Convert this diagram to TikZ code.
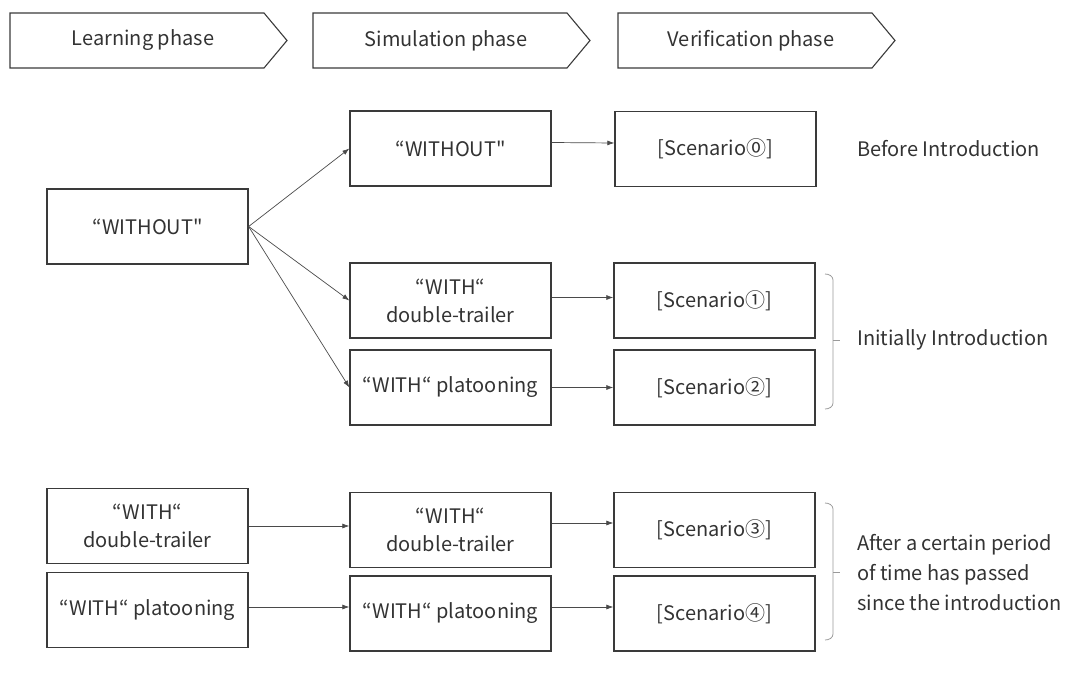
\documentclass[tikz,border=0pt]{standalone}
\usepackage{fontspec}
\setmainfont{Noto Sans CJK JP}[Ligatures=TeXOff]
\usetikzlibrary{arrows.meta}
\definecolor{boxline}{HTML}{3A3A3A}
\definecolor{conn}{HTML}{4A4A4A}
\definecolor{txt}{HTML}{333333}
\definecolor{brk}{HTML}{9A9A9A}
\tikzset{
  box/.style={draw=boxline, line width=1.3pt, rectangle, minimum width=201pt, minimum height=75pt, inner sep=0pt, align=center, text=txt, font=\fontsize{20}{28}\selectfont},
  conn/.style={draw=conn, line width=0.7pt, -{Latex[length=7pt,width=5pt]}},
  phase/.style={draw=boxline, line width=1.1pt},
  phtxt/.style={text=txt, font=\fontsize{20}{24}\selectfont},
  lbl/.style={text=txt, font=\fontsize{20}{30}\selectfont, inner sep=0pt, anchor=west, align=left},
  brace/.style={draw=brk, line width=0.8pt}
}
\begin{document}
\begin{tikzpicture}[x=1pt,y=-1pt]
\useasboundingbox (0,0) rectangle (1065,693);
% phase arrows
\draw[phase] (10,13) -- (264,13) -- (287,40.5) -- (264,68) -- (10,68) -- cycle;
\node[phtxt] (p1) at (143,40.5) {Learning phase};
\draw[phase] (313,13) -- (567,13) -- (590,40.5) -- (567,68) -- (313,68) -- cycle;
\node[phtxt] (p2) at (446,40.5) {Simulation phase};
\draw[phase] (618,13) -- (872,13) -- (895,40.5) -- (872,68) -- (618,68) -- cycle;
\node[phtxt] (p3) at (751,40.5) {Verification phase};

% upper group
\node[box] (lwo) at (147.5,226.5) {“WITHOUT"};
\node[box] (swo) at (450.5,148.5) {“WITHOUT"};
\node[box] (s0) at (715.5,149) {[Scenario⓪]};
\node[box] (sdt) at (450.5,300.5) {“WITH“\\double-trailer};
\node[box] (s1) at (714.5,300.5) {[Scenario①]};
\node[box] (spl) at (450.5,387.5) {“WITH“ platooning};
\node[box] (s2) at (714.5,387.5) {[Scenario②]};

\draw[conn] (lwo.east) -- (swo.west);
\draw[conn] (lwo.east) -- (sdt.west);
\draw[conn] (lwo.east) -- (spl.west);
\draw[conn] ([yshift=6pt]swo.east) -- ([yshift=6pt]s0.west);
\draw[conn] ([yshift=3pt]sdt.east) -- ([yshift=3pt]s1.west);
\draw[conn] (spl.east) -- (s2.west);

% lower group
\node[box] (ldt) at (147.5,526) {“WITH“\\double-trailer};
\node[box] (lpl) at (147.5,610) {“WITH“ platooning};
\node[box] (sdt2) at (450.5,530) {“WITH“\\double-trailer};
\node[box] (spl2) at (450.5,613.5) {“WITH“ platooning};
\node[box] (s3) at (714.5,530) {[Scenario③]};
\node[box] (s4) at (714.5,613.5) {[Scenario④]};

\draw[conn] (ldt.east) -- (sdt2.west |- ldt.east);
\draw[conn] ([yshift=3pt]lpl.east) -- ([yshift=3pt]spl2.west |- lpl.east);
\draw[conn] ([yshift=7pt]sdt2.east) -- ([yshift=7pt]s3.west);
\draw[conn] ([yshift=6.5pt]spl2.east) -- ([yshift=6.5pt]s4.west);

% labels
\node[lbl] (t0) at (857,149) {Before Introduction};
\node[lbl] (t1) at (857,340) {Initially Introduction};
\node[lbl] (t2) at (857,573) {After a certain period\\of time has passed\\since the introduction};

% braces
\draw[brace] (825,274) to[out=0,in=90] (833,280) -- (833,403) to[out=-90,in=0] (825,409);
\draw[brace] (833,340) -- (840,340);
\draw[brace] (825,503) to[out=0,in=90] (833,509) -- (833,634) to[out=-90,in=0] (825,640);
\draw[brace] (833,572) -- (840,572);
\end{tikzpicture}
\end{document}
